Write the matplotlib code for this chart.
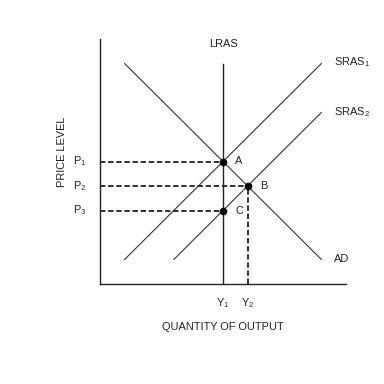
import matplotlib
matplotlib.use("Agg")
import matplotlib.pyplot as plt

plt.rcParams['font.family'] = ['Liberation Sans', 'DejaVu Sans']
plt.rcParams['mathtext.fontset'] = 'custom'
plt.rcParams['mathtext.rm'] = 'Liberation Sans'

# Curves (data units)
lras_x = [5.0, 5.0]
lras_y = [0.0, 9.0]
ad_x = [1.0, 9.0]
ad_y = [9.0, 1.0]
sras1_x = [1.0, 9.0]
sras1_y = [1.0, 9.0]
sras2_x = [3.0, 9.0]
sras2_y = [1.0, 7.0]

point_names = ['A', 'B', 'C']
point_x = [5.0, 6.0, 5.0]
point_y = [5.0, 4.0, 3.0]
price_labels = ['P$_\\mathrm{1}$', 'P$_\\mathrm{2}$', 'P$_\\mathrm{3}$']
output_labels = ['Y$_\\mathrm{1}$', 'Y$_\\mathrm{2}$']
output_x = [5.0, 6.0]

fig = plt.figure(figsize=(3.84, 3.84), dpi=100)
ax = fig.add_axes([100/384, 100/384, 246/384, 245/384])
ax.set_xlim(0, 10)
ax.set_ylim(0, 10)
for s in ['top', 'right']:
    ax.spines[s].set_visible(False)
for s in ['left', 'bottom']:
    ax.spines[s].set_color('#222222')
    ax.spines[s].set_linewidth(1.0)
ax.set_xticks([])
ax.set_yticks([])

lc = '#333333'
ax.plot(lras_x, lras_y, color='#222222', lw=1.0)
ax.plot(ad_x, ad_y, color=lc, lw=0.8)
ax.plot(sras1_x, sras1_y, color=lc, lw=0.8)
ax.plot(sras2_x, sras2_y, color=lc, lw=0.8)

# dashed guide lines
for px, py in zip(point_x, point_y):
    ax.plot([0, px], [py, py], color='#222222', lw=1.3, ls=(0, (3, 1.5)))
ax.plot([point_x[1], point_x[1]], [0, point_y[1]], color='#222222', lw=1.3, ls=(0, (3, 1.5)))

ax.scatter(point_x, point_y, s=20, color='black', zorder=5)

fs = 7.9
tc = '#222222'
for name, px, py in zip(point_names, point_x, point_y):
    ax.text(px + 0.5, py, name, fontsize=fs, color=tc, ha='left', va='center')

ax.text(5.0, 9.8, 'LRAS', fontsize=fs, color=tc, ha='center', va='center')
ax.text(9.5, 9.06, 'SRAS$_\\mathrm{1}$', fontsize=fs, color=tc, ha='left', va='center')
ax.text(9.5, 7.0, 'SRAS$_\\mathrm{2}$', fontsize=fs, color=tc, ha='left', va='center')
ax.text(9.5, 1.02, 'AD', fontsize=fs, color=tc, ha='left', va='center')

for lab, py in zip(price_labels, point_y):
    ax.text(-0.55, py, lab, fontsize=fs, color=tc, ha='right', va='center')
for lab, px in zip(output_labels, output_x):
    ax.text(px, -0.78, lab, fontsize=fs, color=tc, ha='center', va='center')

ax.text(5.0, -1.75, 'QUANTITY OF OUTPUT', fontsize=fs, color=tc, ha='center', va='center')
ax.text(-1.55, 5.4, 'PRICE LEVEL', fontsize=fs, color=tc, ha='center', va='center', rotation=90)

fig.savefig('out.png', dpi=100)
